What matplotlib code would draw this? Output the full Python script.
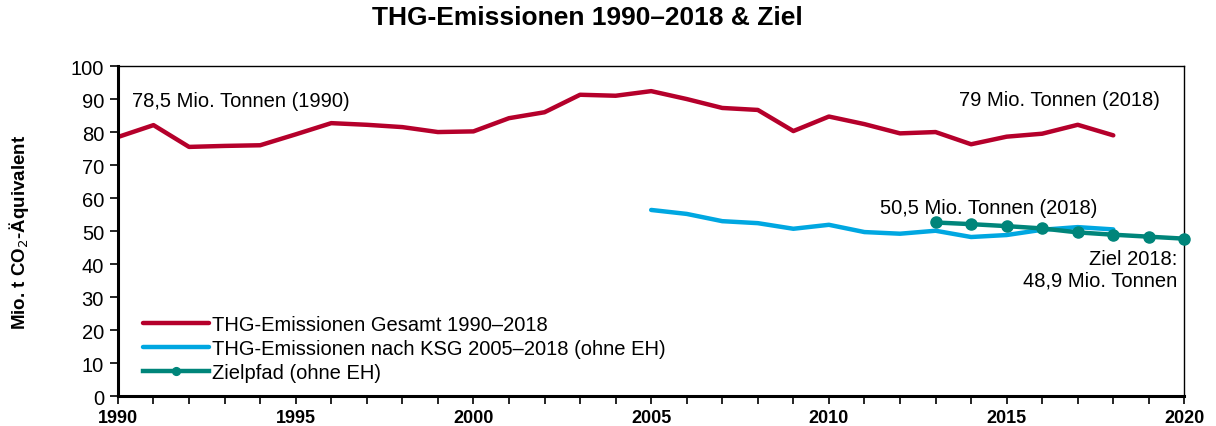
import matplotlib
matplotlib.use("Agg")
import matplotlib.pyplot as plt
from matplotlib.ticker import MultipleLocator

# THG-Emissionen gesamt 1990-2018 (Mio. t CO2-Aeq.)
years_total = list(range(1990, 2019))
thg_total = [78.5, 82.1, 75.5, 75.8, 76.0, 79.3, 82.7, 82.2, 81.5, 80.0,
             80.2, 84.2, 86.0, 91.3, 91.0, 92.4, 90.0, 87.3, 86.7, 80.3,
             84.7, 82.4, 79.6, 80.0, 76.3, 78.6, 79.5, 82.2, 79.0]

# THG-Emissionen nach KSG 2005-2018 (ohne EH)
years_ksg = list(range(2005, 2019))
thg_ksg = [56.4, 55.2, 53.0, 52.4, 50.7, 51.9, 49.7, 49.2, 50.1, 48.2,
           48.8, 50.4, 51.2, 50.5]

# Zielpfad (ohne EH)
years_ziel = list(range(2013, 2021))
zielpfad = [52.6, 52.1, 51.5, 50.8, 49.6, 48.9, 48.3, 47.7]

red = "#b5002b"
blue = "#00a7e1"
teal = "#00857a"

plt.rcParams["font.family"] = ["Liberation Sans", "DejaVu Sans"]

fig = plt.figure(figsize=(12.16, 4.27), dpi=100)
ax = fig.add_axes([0.097, 0.07, 0.877, 0.773])

ax.plot(years_total, thg_total, color=red, lw=3.2, solid_capstyle="round",
        label="THG-Emissionen Gesamt 1990\u20132018")
ax.plot(years_ksg, thg_ksg, color=blue, lw=3.2, solid_capstyle="round",
        label="THG-Emissionen nach KSG 2005\u20132018 (ohne EH)")
ax.plot(years_ziel, zielpfad, color=teal, lw=3.2, marker="o", ms=8,
        label="Zielpfad (ohne EH)", zorder=3, clip_on=False)

ax.set_xlim(1990, 2020)
ax.set_ylim(0, 100)
ax.xaxis.set_major_locator(MultipleLocator(5))
ax.xaxis.set_minor_locator(MultipleLocator(1))
ax.yaxis.set_major_locator(MultipleLocator(10))

ax.tick_params(axis="both", which="both", direction="out", labelsize=14.5,
               width=1.2, color="black")
ax.tick_params(axis="x", which="major", length=6, pad=3, labelsize=13)
ax.tick_params(axis="x", which="minor", length=6)
ax.tick_params(axis="y", length=6, pad=4)
for lbl in ax.get_xticklabels():
    lbl.set_fontweight("bold")

for s in ["left", "bottom"]:
    ax.spines[s].set_linewidth(2.2)
for s in ["top", "right"]:
    ax.spines[s].set_linewidth(1.0)

ax.set_ylabel("Mio. t CO$_2$-\u00c4quivalent", fontsize=13.5,
              fontweight="bold")
ax.yaxis.set_label_coords(-0.082, 0.5)

fig.suptitle("THG-Emissionen 1990\u20132018 & Ziel", x=0.483, y=0.985,
             fontsize=19, fontweight="bold")

ax.text(1990.4, 89.5, "78,5 Mio. Tonnen (1990)", fontsize=14.5, va="center")
ax.text(2019.3, 90, "79 Mio. Tonnen (2018)", fontsize=14.5, va="center", ha="right")
ax.text(2014.5, 57, "50,5 Mio. Tonnen (2018)", fontsize=14.5, va="center", ha="center")
ax.text(2019.8, 38.5, "Ziel 2018:\n48,9 Mio. Tonnen", fontsize=14.5, va="center",
        ha="right", linespacing=1.15)

leg = ax.legend(loc="lower left", bbox_to_anchor=(0.01, 0.0), frameon=False,
                fontsize=14.5, handlelength=3.3, handletextpad=0.15,
                labelspacing=0.25, borderaxespad=0.3, markerscale=0.7)

fig.savefig("out.png", dpi=100)
